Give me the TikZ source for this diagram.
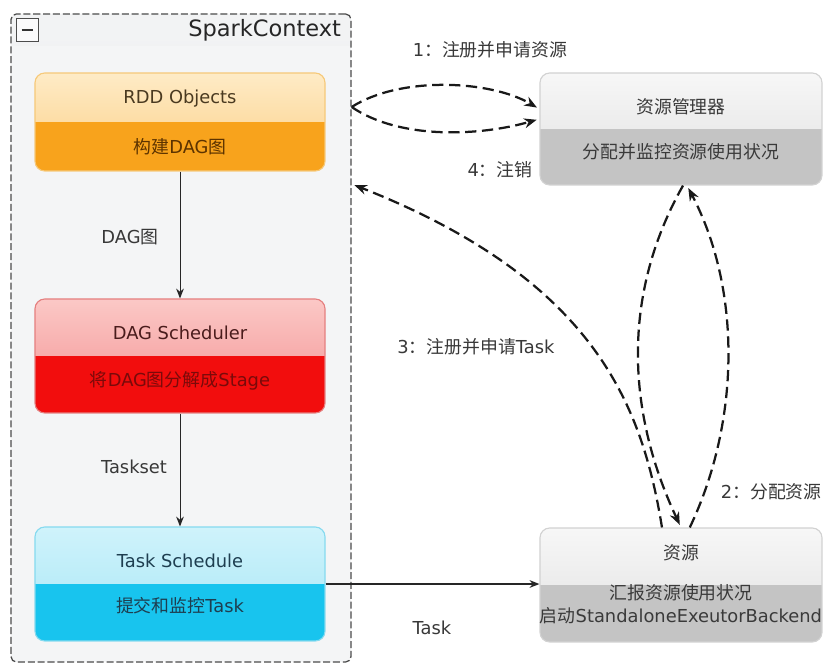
\documentclass[tikz,border=0pt]{standalone}
\usepackage{fontspec}
\setmainfont{DejaVu Sans}
\newfontfamily\zhfont{Noto Sans CJK SC}
\newcommand{\cn}[1]{{\zhfont #1}}
\usetikzlibrary{arrows.meta,positioning}

\definecolor{ctxfill}{HTML}{F4F5F6}
\definecolor{ctxheadtop}{HTML}{F2F3F4}
\definecolor{ctxheadbot}{HTML}{E6E7E9}
\definecolor{rddrim}{HTML}{F6C97A}
\definecolor{rddlight}{HTML}{FEEBC6}
\definecolor{rddmid}{HTML}{FCCF85}
\definecolor{rdddark}{HTML}{F8A31C}
\definecolor{dagrim}{HTML}{E58080}
\definecolor{daglight}{HTML}{FBC8C6}
\definecolor{dagmid}{HTML}{F39090}
\definecolor{dagdark}{HTML}{F20D0D}
\definecolor{taskrim}{HTML}{86DAEF}
\definecolor{tasklight}{HTML}{CFF3FB}
\definecolor{taskmid}{HTML}{A6E6F6}
\definecolor{taskdark}{HTML}{18C4EE}
\definecolor{resrim}{HTML}{D2D2D2}
\definecolor{reslight}{HTML}{F7F7F7}
\definecolor{resmid}{HTML}{E0E0E0}
\definecolor{resdark}{HTML}{C4C4C4}
\definecolor{rddink}{HTML}{4A3A20}
\definecolor{rddinkb}{HTML}{5C3300}
\definecolor{dagink}{HTML}{4A1C1C}
\definecolor{daginkb}{HTML}{7A0A0A}
\definecolor{taskink}{HTML}{1E3E50}
\definecolor{resink}{HTML}{3A3A3A}

\begin{document}
\begin{tikzpicture}[x=0.025cm, y=-0.025cm,
  every node/.style={font=\fontsize{12.7}{15}\selectfont},
  stagebox/.style n args={4}{draw=#1, line width=0.8pt, rounded corners=7pt, inner sep=0pt,
    path picture={
      \shade[sharp corners, top color=#2, bottom color=#3]
        (path picture bounding box.north west) rectangle (path picture bounding box.east);
      \fill[sharp corners, #4]
        (path picture bounding box.west) rectangle (path picture bounding box.south east);
    }},
  ctxframe/.style={draw=black!70, line width=0.9pt, dash pattern=on 5pt off 2pt,
    rounded corners=4pt, fill=ctxfill, inner sep=0pt,
    path picture={
      \shade[sharp corners, top color=ctxheadtop, bottom color=ctxheadbot]
        (path picture bounding box.north west) rectangle ([yshift=-0.8cm]path picture bounding box.north east);
    }},
  flow/.style={-{Stealth[length=7pt,width=5.5pt]}, line width=0.7pt, draw=black!85},
  msg/.style={-{Stealth[length=9pt,width=7pt]}, line width=1.6pt,
    dash pattern=on 8pt off 4pt, draw=black!90, shorten >=2pt},
  note/.style={text=black!78}]

\fill[white] (0,0) rectangle (824,666);
\useasboundingbox (0,0) rectangle (824,666);

% SparkContext frame
\node (sc) [ctxframe, minimum width=8.5cm, minimum height=16.2cm] at (181,338) {};
\node (fold) [draw=black!70, line width=0.7pt, fill=white!60!ctxheadtop, minimum width=0.55cm,
  minimum height=0.58cm, inner sep=0pt] at (27.5,30) {};
\draw[line width=1.8pt, black!80] ([xshift=4pt]fold.west) -- ([xshift=-4pt]fold.east);
\node (sctitle) [anchor=east, font=\fontsize{16}{19}\selectfont, text=black!85] at (346,30) {SparkContext};

% stages inside the context
\node (rdd) [stagebox={rddrim}{rddlight}{rddmid}{rdddark},
  minimum width=7.25cm, minimum height=2.45cm] at (180,122) {};
\node (rddname) [text=rddink] at (180,99) {RDD Objects};
\node (rddjob) [text=rddinkb] at (180,147) {\cn{构建}DAG\cn{图}};

\node (dag) [stagebox={dagrim}{daglight}{dagmid}{dagdark},
  minimum width=7.25cm, minimum height=2.85cm] at (180,356) {};
\node (dagname) [text=dagink] at (180,333) {DAG Scheduler};
\node (dagjob) [text=daginkb] at (180,381) {\cn{将}DAG\cn{图分解成}Stage};

\node (task) [stagebox={taskrim}{tasklight}{taskmid}{taskdark},
  minimum width=7.25cm, minimum height=2.85cm] at (180,584) {};
\node (taskname) [text=taskink] at (180,561) {Task Schedule};
\node (taskjob) [text=taskink] at (180,606) {\cn{提交和监控}Task};

% resource side
\node (rm) [stagebox={resrim}{reslight}{resmid}{resdark},
  minimum width=7.05cm, minimum height=2.8cm] at (681,129) {};
\node (rmname) [text=resink] at (681,107) {\cn{资源管理器}};
\node (rmjob) [text=resink] at (681,152) {\cn{分配并监控资源使用状况}};

\node (res) [stagebox={resrim}{reslight}{resmid}{resdark},
  minimum width=7.05cm, minimum height=2.85cm] at (681,585) {};
\node (resname) [text=resink] at (681,553) {\cn{资源}};
\node (resjob) [text=resink, align=center, font=\fontsize{12.7}{16}\selectfont] at (681,604)
  {\cn{汇报资源使用状况}\\\cn{启动}StandaloneExeutorBackend};

% pipeline inside the context
\draw[flow] (rdd.south) -- (dag.north);
\draw[flow] (dag.south) -- (task.north);
\node (lbldag) [note] at (130,237) {DAG\cn{图}};
\node (lblset) [note] at (134,467) {Taskset};

% messages
\coordinate (reqy) at (0,107);
\coordinate (byey) at (0,184);
\coordinate (screq) at (sc.east |- reqy);
\coordinate (scbye) at (sc.east |- byey);

\draw[msg] (screq) .. controls (400,76) and (490,80) .. ([yshift=0.5cm]rm.west);
\draw[msg] (screq) .. controls (400,140) and (480,136) .. ([yshift=0.25cm]rm.west);
\node (lbl1) [note] at (490,50) {1\cn{：注册并申请资源}};

\draw[msg] ([xshift=-0.475cm]res.north) .. controls (642,405) and (595,280) .. (scbye);
\node (lbl4) [note] at (500,170) {4\cn{：注销}};
\node (lbl3) [note] at (476,347) {3\cn{：注册并申请}Task};

\draw[msg] ([xshift=0.05cm]rm.south) .. controls (624,290) and (624,406) .. (res.north);
\draw[msg] ([xshift=0.22cm]res.north) .. controls (741,420) and (741,288) .. ([xshift=0.15cm]rm.south);
\node (lbl2) [note, anchor=west] at (716,492) {2\cn{：分配资源}};

\draw[flow, line width=1pt] (task.east) -- (task.east -| res.west);
\node (lbltask) [note] at (432,628) {Task};

\end{tikzpicture}
\end{document}
